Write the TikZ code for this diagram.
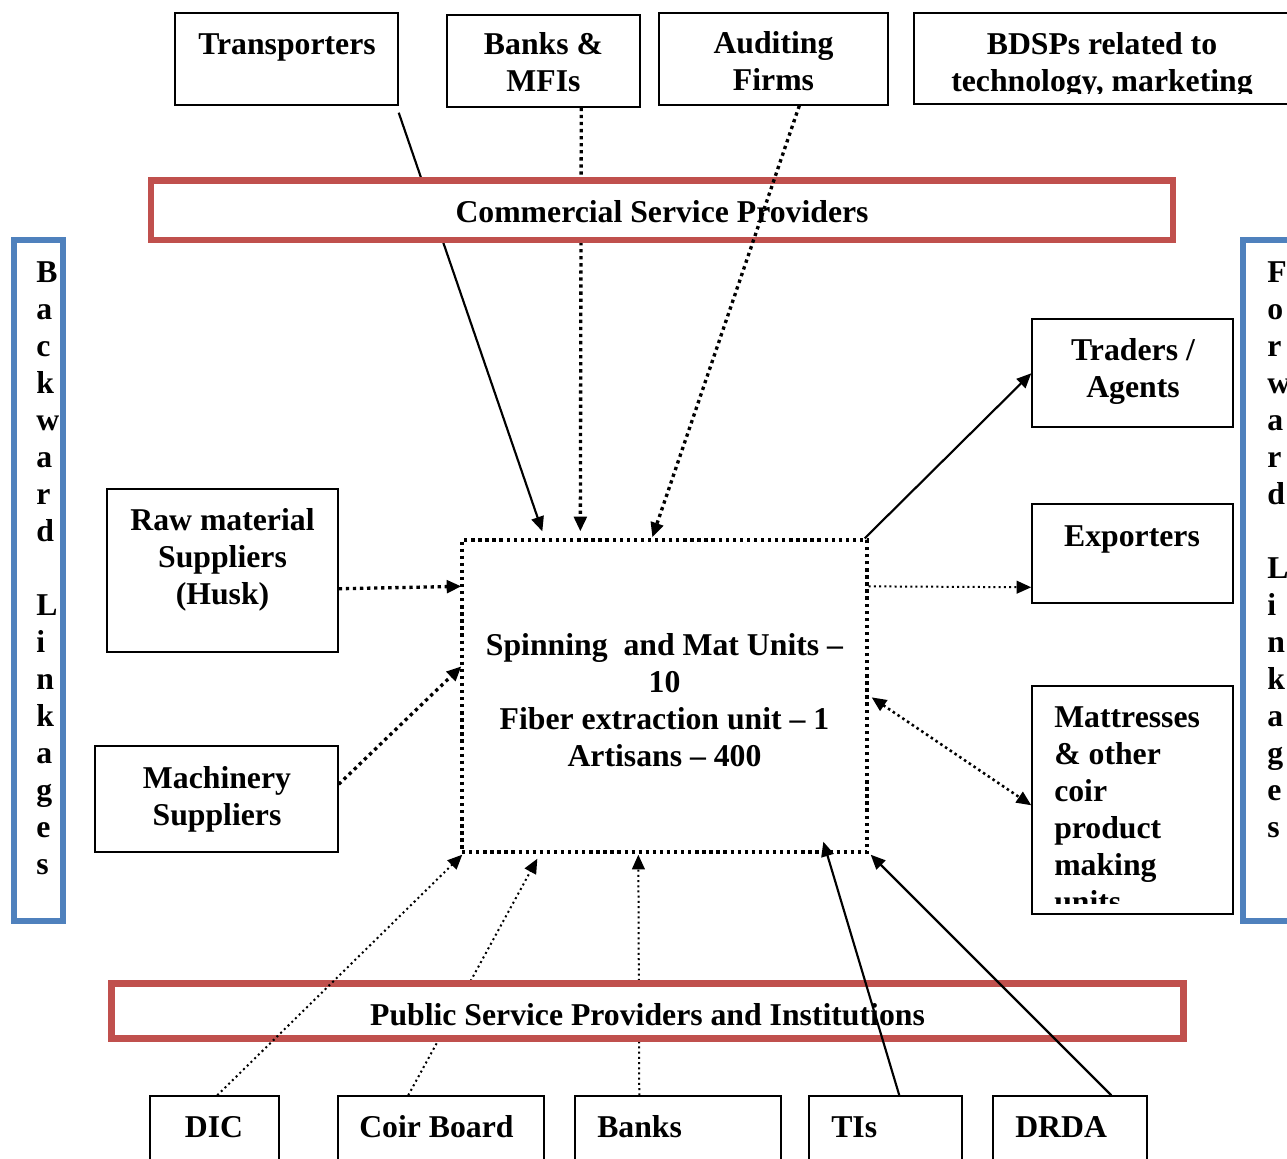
\documentclass[tikz,border=0pt]{standalone}
\usepackage{fontspec}
\setmainfont{Liberation Serif}
\usetikzlibrary{arrows.meta,calc,fit}
\definecolor{boxred}{HTML}{C0504D}
\definecolor{boxblue}{HTML}{4F81BD}
\begin{document}
\begin{tikzpicture}[x=0.75pt,y=-0.75pt,
  box/.style={draw, line width=1.1pt, inner sep=0pt},
  area/.style={inner sep=0pt},
  redbox/.style={draw=boxred, line width=5.2pt, fill=white, inner sep=0pt},
  bluebox/.style={draw=boxblue, line width=4.5pt, inner sep=0pt},
  txt/.style={font=\bfseries\fontsize{23.8}{27.75}\selectfont, align=center, inner sep=0pt},
  vtxt/.style={font=\bfseries\fontsize{23.8}{27.75}\selectfont, align=left, inner sep=0pt, anchor=west},
  arrowend/.style={-{Triangle[length=11pt,width=9.5pt]}},
  arrowboth/.style={{Triangle[length=11pt,width=9.5pt]}-{Triangle[length=11pt,width=9.5pt]}},
  solidln/.style={line width=1.6pt},
  bigdots/.style={line width=2.5pt, dash pattern=on 2.5pt off 2.8pt},
  meddots/.style={line width=1.9pt, dash pattern=on 1.9pt off 2.4pt},
  smalldots/.style={line width=1.5pt, dash pattern=on 1.5pt off 2.4pt},
]
\useasboundingbox (0,0) rectangle (1287,1158);
\clip (0,0) rectangle (1287,1158);

% ---- boxes ----
\node[box, fit={(175,13)(398,105)}] (trans) {};
\node[box, fit={(447,15)(640,107)}] (bmfi) {};
\node[box, fit={(659,13)(888,105)}] (aud) {};
\node[box, fit={(914,13)(1300,104)}] (bdsp) {};
\node[box, fit={(107,489)(338,652)}] (raw) {};
\node[box, fit={(95,746)(338,852)}] (mach) {};
\node[box, fit={(1032,319)(1233,427)}] (trad) {};
\node[box, fit={(1032,504)(1233,603)}] (expo) {};
\node[box, fit={(1032,686)(1233,914)}] (matt) {};
\node[box, fit={(150,1096)(279,1175)}] (dic) {};
\node[box, fit={(338,1096)(544,1175)}] (coir) {};
\node[box, fit={(575,1096)(781,1175)}] (bank) {};
\node[box, fit={(809,1096)(962,1175)}] (tis) {};
\node[box, fit={(993,1096)(1147,1175)}] (drda) {};
\node[area, draw, bigdots, fit={(462,540)(867,852)}] (ctr) {};

\node[bluebox, fit={(14,240)(62.5,921)}] (bw) {};
\node[bluebox, fit={(1243,240)(1300,921)}] (fw) {};

% ---- connectors hidden behind the red bands ----
\draw[solidln, arrowend] ($(trans.south east)+(0,7)$) -- ($(ctr.north west)+(82,-7)$);
\draw[bigdots, arrowend] ($(bmfi.south west)+(135,0)$) -- ($(ctr.north west)+(120,-7)$);
\draw[smalldots, arrowend] ($(coir.north west)+(71,0)$) -- ($(ctr.south west)+(77,5)$);
\draw[smalldots, arrowend] ($(bank.north west)+(65,0)$) -- ($(ctr.south west)+(178,1)$);

% ---- red bands ----
\node[redbox, fit={(151,180.5)(1173,240)}] (comm) {};
\node[redbox, fit={(111.5,983.5)(1183.5,1038.5)}] (pub) {};

% ---- connectors drawn over the bands ----
\draw[bigdots, arrowend] ($(aud.south west)+(141,0)$) -- ($(ctr.north west)+(192,-1)$);
\draw[smalldots, arrowend] ($(dic.north west)+(68,0)$) -- ($(ctr.south west)+(2,1)$);
\draw[solidln, arrowend] ($(tis.north west)+(91,0)$) -- ($(ctr.south west)+(363,-12)$);
\draw[solidln, arrowend] ($(drda.north west)+(119,0)$) -- ($(ctr.south east)+(2,1)$);

% ---- side connectors ----
\draw[bigdots, arrowend] ($(raw.south east)+(0,-64)$) -- ($(ctr.north west)+(1,48)$);
\draw[bigdots, arrowend] ($(mach.north east)+(0,39)$) -- ($(ctr.north west)+(1,128)$);
\draw[solidln, arrowend] ($(ctr.north east)+(-4,0)$) -- ($(trad.north west)+(0,55)$);
\draw[smalldots, arrowend] ($(ctr.north east)+(0,48)$) -- ($(expo.north west)+(0,84)$);
\draw[meddots, arrowboth] ($(ctr.north east)+(3,159)$) -- ($(matt.north west)+(0,120)$);

% ---- texts ----
\node[txt] (transT) at (287,47.5) {Transporters};
\node[txt] (bmfiT) at (543.5,62.5) {Banks \&\\MFIs};
\node[txt] (audT) at (773.5,61) {Auditing\\Firms};
\begin{scope}
\clip (914,13) rectangle (1287,93);
\node[txt] (bdspT) at (1102,65) {BDSPs related to\\technology, marketing};
\end{scope}
\node[txt] (commT) at (662,212) {Commercial Service Providers};
\node[txt] (ctrT) at (664.5,700) {Spinning~ and Mat Units –\\10\\Fiber extraction unit – 1\\Artisans – 400};
\node[txt] (rawT) at (222.5,560) {Raw material\\Suppliers\\(Husk)};
\node[txt] (machT) at (217,799) {Machinery\\Suppliers};
\node[txt] (tradT) at (1133,371.5) {Traders /\\Agents};
\node[txt] (expoT) at (1132,539.5) {Exporters};
\begin{scope}
\clip (1032,686) rectangle (1233,903);
\node[txt, align=left, anchor=north west] (mattT) at (1054,706) {Mattresses\\\& other\\coir\\product\\making\\units};
\end{scope}
\node[txt] (pubT) at (647.5,1015) {Public Service Providers and Institutions};
\node[txt] (dicT) at (214,1127) {DIC};
\node[txt, anchor=west] (coirT) at (359,1127) {Coir Board};
\node[txt, anchor=west] (bankT) at (597,1127) {Banks};
\node[txt, anchor=west] (tisT) at (831,1127) {TIs};
\node[txt, anchor=west] (drdaT) at (1015,1127) {DRDA};
\node[vtxt] (bwT) at (36,568) {B\\a\\c\\k\\w\\a\\r\\d\\[27.75pt]L\\i\\n\\k\\a\\g\\e\\s};
\node[vtxt] (fwT) at (1267,549.5) {F\\o\\r\\w\\a\\r\\d\\[27.75pt]L\\i\\n\\k\\a\\g\\e\\s};
\end{tikzpicture}
\end{document}
